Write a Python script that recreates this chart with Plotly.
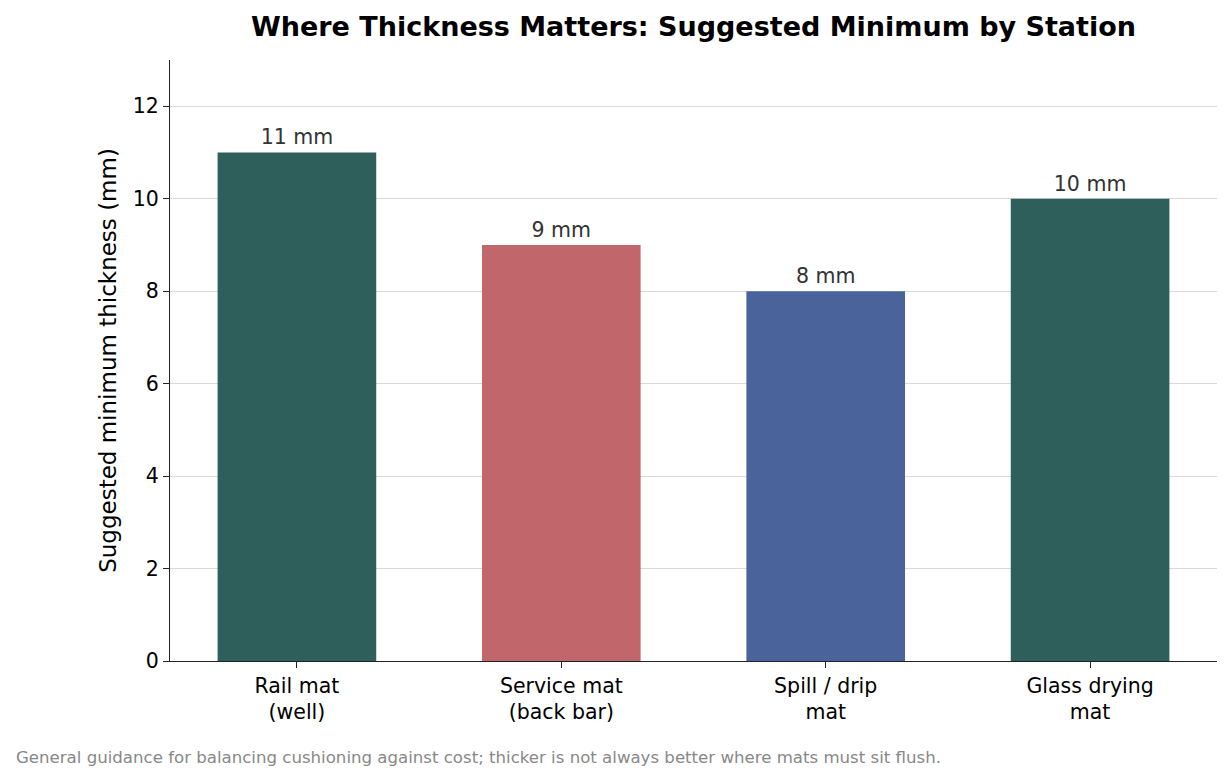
import plotly.graph_objects as go

# station categories and suggested minimum thickness (mm)
stations = ["Rail mat<br>(well)", "Service mat<br>(back bar)", "Spill / drip<br>mat", "Glass drying<br>mat"]
thickness = [11, 9, 8, 10]
bar_colors = ["#2e5f5b", "#c1676b", "#4a649b", "#2e5f5b"]
y_ticks = [0, 2, 4, 6, 8, 10, 12]

font = "DejaVu Sans"

fig = go.Figure()
fig.add_trace(go.Bar(
    x=list(range(len(stations))),
    y=thickness,
    width=0.6,
    marker=dict(color=bar_colors, line=dict(width=0)),
    text=[f"{v} mm" for v in thickness],
    textposition="outside",
    textfont=dict(family=font, size=20.5, color="#333333"),
    cliponaxis=False,
    showlegend=False,
))

# page body adds an 8px offset, so margins are shifted to compensate
fig.update_layout(
    width=1231,
    height=781,
    paper_bgcolor="white",
    plot_bgcolor="white",
    margin=dict(l=162, r=22, t=52, b=128),
    font=dict(family=font, size=20.5, color="black"),
    title=dict(
        text="<b>Where Thickness Matters: Suggested Minimum by Station</b>",
        x=685.5 / 1231, xanchor="center",
        y=1 - 19 / 781, yanchor="middle",
        font=dict(family=font, size=27, color="black"),
    ),
)

fig.update_xaxes(
    tickmode="array",
    tickvals=list(range(len(stations))),
    ticktext=stations,
    range=[-0.48, 3.48],
    showline=True, linecolor="#222222", linewidth=1.3,
    ticks="outside", ticklen=6, tickcolor="#222222",
    showgrid=False, zeroline=False,
    tickfont=dict(family=font, size=20.5, color="black"),
)
fig.update_yaxes(
    range=[0, 13],
    tickmode="array",
    tickvals=y_ticks,
    showline=True, linecolor="#222222", linewidth=1.3,
    ticks="outside", ticklen=6, tickcolor="#222222",
    showgrid=True, gridcolor="#d9d9d9", gridwidth=1.3,
    zeroline=False,
    title=dict(text="Suggested minimum thickness (mm)", font=dict(family=font, size=23), standoff=9),
    tickfont=dict(family=font, size=20.5, color="black"),
)

fig.add_annotation(
    text="General guidance for balancing cushioning against cost; thicker is not always better where mats must sit flush.",
    xref="paper", yref="paper",
    x=-156 / 1047, y=-96 / 601,
    xanchor="left", yanchor="middle",
    showarrow=False,
    font=dict(family=font, size=16.6, color="#888888"),
)

fig.write_html("out.html")
